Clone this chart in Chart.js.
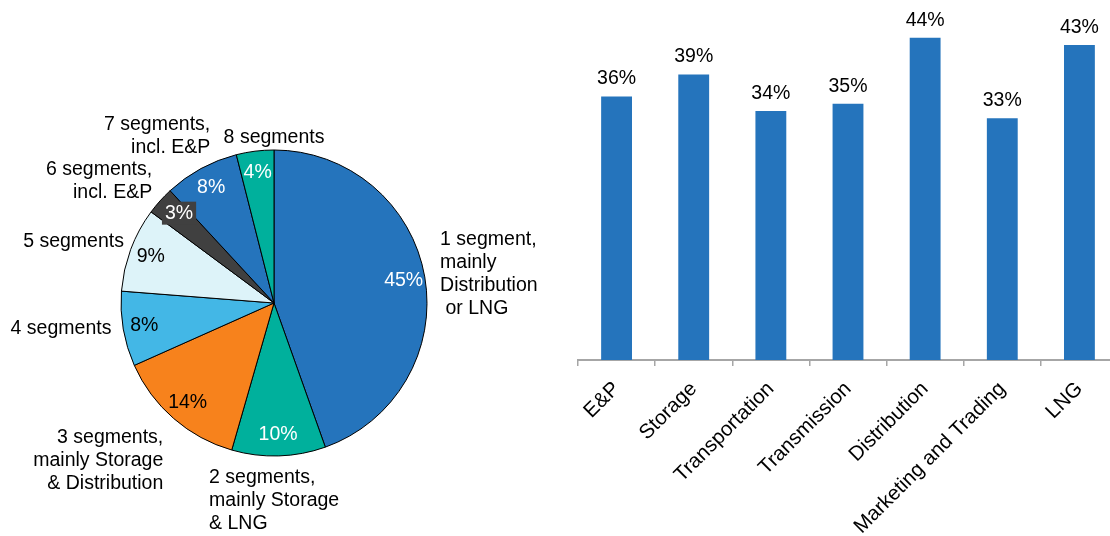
<!DOCTYPE html>
<html>
<head>
<meta charset="utf-8">
<script src="https://cdn.jsdelivr.net/npm/chart.js@4.4.1/dist/chart.umd.min.js"></script>
<style>
  html, body { margin: 0; padding: 0; background: #fff; overflow: hidden; }
  body { width: 1110px; height: 536px; position: relative; }
  #pie-wrap { position: absolute; left: 0; top: 0; width: 548px; height: 536px; }
  #bar-wrap { position: absolute; left: 570px; top: 0; width: 548px; height: 536px; }
</style>
</head>
<body>
<div id="pie-wrap"><canvas id="segments-pie"></canvas></div>
<div id="bar-wrap"><canvas id="segment-bars"></canvas></div>
<script>
var FONT = "'Liberation Sans', Arial, sans-serif";

// number of segments a company is active in
var pieLabels = [
  ["1 segment,", "mainly", "Distribution", " or LNG"],
  ["2 segments,", "mainly Storage", "& LNG"],
  ["3 segments,", "mainly Storage", "& Distribution"],
  ["4 segments"],
  ["5 segments"],
  ["6 segments,", "incl. E&P"],
  ["7 segments,", "incl. E&P"],
  ["8 segments"]
];
var pieValues = [45, 10, 14, 8, 9, 3, 8, 4];
var pieColors = ["#2574bc", "#00b09c", "#f7821c", "#43b7e6", "#ddf3f9", "#404040", "#2574bc", "#00b09c"];
var pieTextColors = ["#fff", "#fff", "#000", "#000", "#000", "#fff", "#fff", "#fff"];
// small shifts for the outside captions so they sit where they read best
var captionNudge = [[3.5, 7], [-5, -2], [-2.5, 7], [0, -4], [4.5, 0], [1, 4], [15, -2], [20.5, 10]];

// share of companies active in each segment
var barCategories = ["E&P", "Storage", "Transportation", "Transmission", "Distribution", "Marketing and Trading", "LNG"];
var barValues = [36, 39, 34, 35, 44, 33, 43];
var barColor = "#2574bc";

var pieLabelPlugin = {
  id: "pieLabels",
  afterDatasetsDraw: function (chart) {
    var ctx = chart.ctx;
    var arcs = chart.getDatasetMeta(0).data;
    var lineH = 23;
    ctx.save();
    ctx.font = "19.5px " + FONT;
    ctx.textBaseline = "middle";
    arcs.forEach(function (arc, i) {
      var p = arc.getProps(["x", "y", "startAngle", "endAngle", "outerRadius"], true);
      var mid = (p.startAngle + p.endAngle) / 2;
      var dx = Math.cos(mid);
      var dy = Math.sin(mid);

      // percentage inside the slice
      var pct = pieValues[i] + "%";
      var ix = p.x + dx * p.outerRadius * 0.86;
      var iy = p.y + dy * p.outerRadius * 0.86;
      if (i === 5) {
        ix += 3;
        iy -= 2;
        var tw = ctx.measureText(pct).width;
        ctx.fillStyle = "#404040";
        ctx.fillRect(ix - tw / 2 - 3, iy - 11.5, tw + 6, 23);
      }
      ctx.textAlign = "center";
      ctx.fillStyle = pieTextColors[i];
      ctx.fillText(pct, ix, iy);

      // caption outside the pie
      var lines = pieLabels[i];
      var w = Math.max.apply(null, lines.map(function (l) { return ctx.measureText(l).width; }));
      var h = lines.length * lineH;
      var ax = p.x + dx * (p.outerRadius + 12);
      var ay = p.y + dy * (p.outerRadius + 12);
      var left, align;
      if (dx > 0.2) {
        left = ax; align = "left";
      } else if (dx < -0.2) {
        left = ax - w; align = "right";
      } else {
        left = ax - w / 2; align = "left";
      }
      var top = ay - h * (1 - dy) / 2;
      left += captionNudge[i][0];
      top += captionNudge[i][1];
      ctx.textAlign = align;
      ctx.fillStyle = "#000";
      lines.forEach(function (l, j) {
        ctx.fillText(l, align === "right" ? left + w : left, top + lineH / 2 + j * lineH);
      });
    });
    ctx.restore();
  }
};

var barValuePlugin = {
  id: "barValues",
  afterDatasetsDraw: function (chart) {
    var ctx = chart.ctx;
    ctx.save();
    ctx.font = "19.5px " + FONT;
    ctx.fillStyle = "#000";
    ctx.textAlign = "center";
    ctx.textBaseline = "alphabetic";
    chart.getDatasetMeta(0).data.forEach(function (bar, i) {
      ctx.fillText(barValues[i] + "%", bar.x, bar.y - 12);
    });
    ctx.restore();
  }
};

new Chart(document.getElementById("segments-pie").getContext("2d"), {
  type: "pie",
  data: {
    labels: pieLabels.map(function (l) { return l.join(" "); }),
    datasets: [{
      data: pieValues,
      backgroundColor: pieColors,
      borderColor: "#000",
      borderWidth: 1,
      radius: 153
    }]
  },
  options: {
    responsive: true,
    maintainAspectRatio: false,
    animation: false,
    radius: 153,
    layout: { padding: { top: 70 } },
    plugins: { legend: { display: false }, tooltip: { enabled: false } }
  },
  plugins: [pieLabelPlugin]
});

new Chart(document.getElementById("segment-bars").getContext("2d"), {
  type: "bar",
  data: {
    labels: barCategories,
    datasets: [{
      data: barValues,
      backgroundColor: barColor,
      barPercentage: 0.4,
      categoryPercentage: 1.0
    }]
  },
  options: {
    responsive: true,
    maintainAspectRatio: false,
    animation: false,
    layout: { padding: { left: 8, top: 8.5, right: 0, bottom: 0 } },
    plugins: { legend: { display: false }, tooltip: { enabled: false } },
    scales: {
      x: {
        grid: {
          display: true,
          drawOnChartArea: false,
          drawTicks: true,
          tickLength: 6,
          color: "#a6a6a6",
          lineWidth: 1.5,
          offset: true
        },
        border: { display: true, color: "#a6a6a6", width: 2 },
        ticks: {
          color: "#000",
          font: { family: FONT, size: 20.5 },
          minRotation: 45,
          maxRotation: 45,
          padding: 11,
          autoSkip: false
        },
        afterFit: function (scale) { scale.height = 176; }
      },
      y: { display: false, min: 0, max: 48 }
    }
  },
  plugins: [barValuePlugin]
});
</script>
</body>
</html>
